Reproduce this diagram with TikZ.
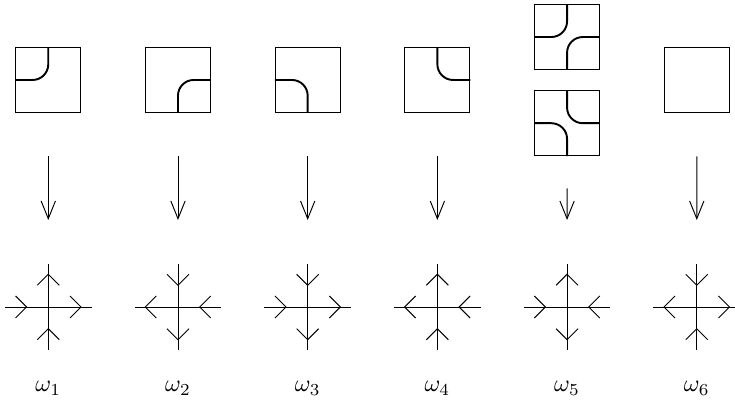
\documentclass[tikz,border=0pt]{standalone}
\usetikzlibrary{arrows.meta}
\begin{document}
\begin{tikzpicture}
\tikzstyle{tile}=[draw,minimum size=0.95cm,inner sep=0pt]
\tikzstyle{strand}=[thick,rounded corners=0.23cm]
\tikzstyle{maparrow}=[-{Straight Barb[length=2.6mm,width=2.1mm]}]
\useasboundingbox (0,0) rectangle (10.762,-5.871);
  % tiles
  \foreach \place/\name in {{(0.707,-1.171)/t1},
                            {(2.606,-1.171)/t2},
                            {(4.505,-1.171)/t3},
                            {(6.404,-1.171)/t4},
                            {(8.303,-0.542)/t5a},
                            {(8.303,-1.804)/t5},
                            {(10.202,-1.171)/t6}}
    \node[tile] (\name) at \place {};
  \foreach \name/\from/\to in {t1/north/west,t2/south/east,t3/west/south,
                               t4/north/east,t5a/north/west,t5a/south/east,
                               t5/north/east,t5/west/south}
    \draw[strand] (\name.\from) -- (\name.center) -- (\name.\to);
  % vertices
  \foreach \i in {1,...,6}
    \coordinate (v\i) at ({0.707+1.899*(\i-1)},-4.495);
  \foreach \i in {1,2,3,4,6}
    \draw[maparrow,shorten <=0.638cm,shorten >=1.274cm] (t\i.south) -- (v\i);
  \draw[maparrow,shorten <=0.474cm,shorten >=1.274cm] (t5.south) -- (v5);
  % arms: 1 = out, 0 = in
  \foreach \i/\r/\u/\l/\d in {1/1/1/0/0,2/0/0/1/1,3/1/0/0/1,
                              4/0/1/1/0,5/0/1/0/1,6/1/0/1/0}
    \foreach \a/\s in {0/\r,90/\u,180/\l,270/\d}
    {
      \begin{scope}[shift={(v\i)},rotate=\a]
        \draw (0,0) -- (0.634,0);
        \draw ({0.479-0.161*\s},0.161) -- ({0.318+0.161*\s},0) -- ({0.479-0.161*\s},-0.161);
      \end{scope}
    }
  \foreach \i in {1,...,6}
    \node[anchor=base] (w\i) at ({0.707+1.899*(\i-1)},-5.735) {$\omega_\i$};
\end{tikzpicture}
\end{document}
